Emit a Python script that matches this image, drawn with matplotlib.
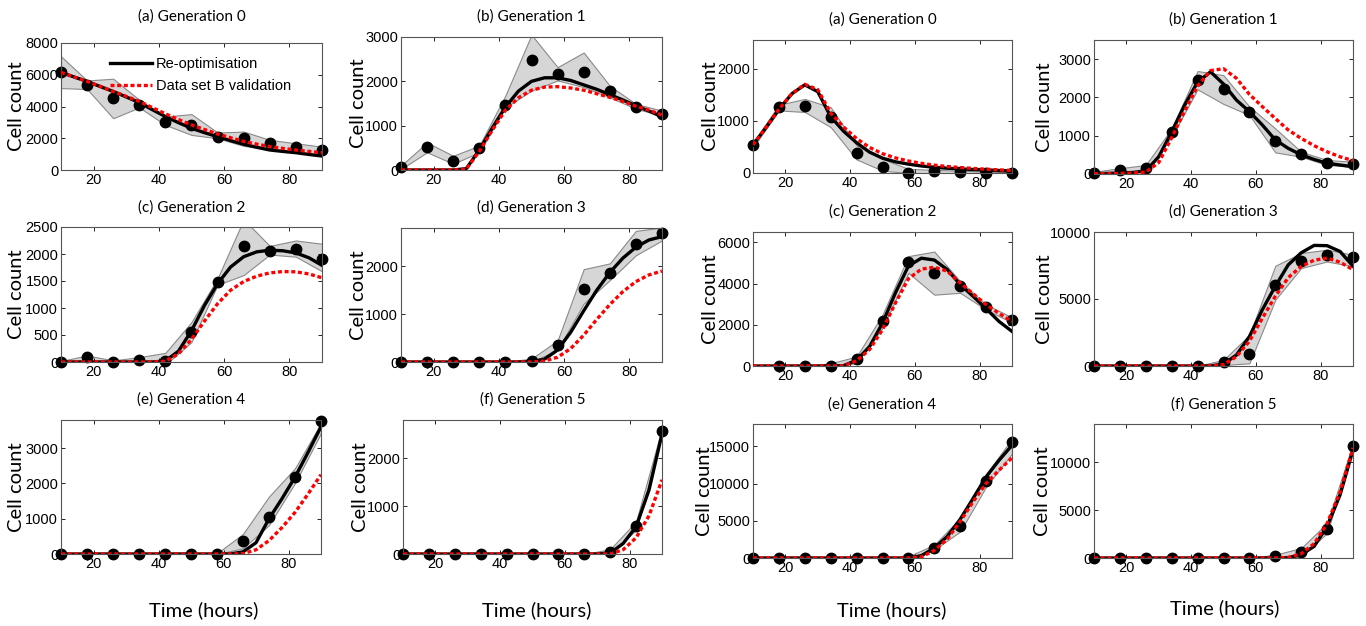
import matplotlib
matplotlib.use('Agg')
import matplotlib.pyplot as plt
import numpy as np

plt.rcParams['font.family'] = ['Liberation Sans Narrow', 'Liberation Sans', 'DejaVu Sans']

# observation times and model curve times (hours)
t_obs = [10, 18, 26, 34, 42, 50, 58, 66, 74, 82, 90]
t_fit = [10, 14, 18, 22, 26, 30, 34, 38, 42, 46, 50, 54, 58, 62, 66, 70, 74, 78, 82, 86, 90]

# ---- left figure ----
la_obs = [6170, 5330, 4530, 4100, 3050, 2840, 2100, 2000, 1680, 1470, 1260]
la_hi = [7160, 5640, 5750, 4420, 3370, 3520, 2360, 2420, 1900, 1680, 1470]
la_lo = [5160, 5100, 3260, 3940, 2840, 2210, 2000, 1520, 1300, 1100, 950]
la_fit = [6150, 5860, 5580, 5260, 4950, 4600, 4250, 3800, 3370, 2980, 2630,
          2350, 2100, 1850, 1620, 1430, 1260, 1170, 1090, 980, 880]
la_val = [6150, 5860, 5580, 5270, 4950, 4640, 4320, 3930, 3540, 3180, 2840,
          2550, 2270, 2030, 1800, 1630, 1470, 1360, 1260, 1170, 1090]

lb_obs = [60, 530, 210, 500, 1470, 2470, 2170, 2200, 1790, 1410, 1260]
lb_hi = [100, 620, 320, 550, 1680, 3050, 2320, 2650, 1900, 1490, 1340]
lb_lo = [20, 400, 140, 400, 1410, 1790, 2020, 1870, 1640, 1380, 1230]
lb_fit = [0, 0, 0, 0, 0, 30, 450, 950, 1420, 1780, 2000,
          2080, 2080, 2020, 1920, 1820, 1700, 1580, 1450, 1330, 1200]
lb_val = [0, 0, 0, 0, 0, 20, 420, 900, 1350, 1630, 1800,
          1870, 1880, 1850, 1800, 1720, 1640, 1550, 1440, 1350, 1240]

lc_obs = [0, 90, 0, 40, 20, 560, 1490, 2150, 2060, 2090, 1900]
lc_hi = [20, 120, 30, 90, 170, 740, 1550, 2640, 2150, 2250, 2190]
lc_lo = [0, 30, 0, 0, -50, 370, 1430, 1610, 1990, 1950, 1680]
lc_fit = [0, 0, 0, 0, 0, 0, 0, 0, 20, 200, 580,
          1050, 1450, 1760, 1950, 2040, 2070, 2060, 2020, 1930, 1790]
lc_val = [0, 0, 0, 0, 0, 0, 0, 0, 15, 150, 420,
          760, 1080, 1330, 1490, 1590, 1650, 1675, 1670, 1630, 1560]

ld_obs = [0, 0, 0, 0, 0, 20, 360, 1530, 1860, 2470, 2700]
ld_hi = [5, 5, 5, 5, 5, 70, 450, 1940, 2060, 2740, 2810]
ld_lo = [0, 0, 0, 0, 0, 0, 260, 1220, 1710, 2230, 2540]
ld_fit = [0, 0, 0, 0, 0, 0, 0, 0, 0, 0, 5,
          60, 250, 620, 1070, 1500, 1870, 2170, 2400, 2550, 2620]
ld_val = [0, 0, 0, 0, 0, 0, 0, 0, 0, 0, 0,
          20, 100, 280, 560, 890, 1200, 1470, 1680, 1820, 1900]

le_obs = [0, 0, 0, 0, 0, 0, 0, 380, 1040, 2180, 3780]
le_hi = [0, 0, 0, 0, 0, 0, 20, 570, 1630, 2430, 3710]
le_lo = [0, 0, 0, 0, 0, 0, 0, 160, 820, 2010, 3430]
le_fit = [0, 0, 0, 0, 0, 0, 0, 0, 0, 0, 0,
          0, 0, 0, 60, 320, 1000, 1570, 2180, 2880, 3610]
le_val = [0, 0, 0, 0, 0, 0, 0, 0, 0, 0, 0,
          0, 0, 0, 10, 120, 380, 750, 1180, 1700, 2250]

lf_obs = [0, 0, 0, 0, 0, 0, 0, 0, 50, 590, 2580]
lf_hi = [0, 0, 0, 0, 0, 0, 0, 0, 100, 680, 2630]
lf_lo = [0, 0, 0, 0, 0, 0, 0, 0, 0, 500, 2490]
lf_fit = [0, 0, 0, 0, 0, 0, 0, 0, 0, 0, 0,
          0, 0, 0, 0, 0, 20, 220, 570, 1340, 2510]
lf_val = [0, 0, 0, 0, 0, 0, 0, 0, 0, 0, 0,
          0, 0, 0, 0, 0, 0, 90, 340, 800, 1550]

# ---- right figure ----
ra_obs = [540, 1260, 1280, 1070, 390, 110, 0, 30, 10, 0, 0]
ra_hi = [580, 1310, 1420, 1260, 530, 270, 80, 60, 45, 25, 15]
ra_lo = [490, 1200, 1170, 880, 260, 45, 0, 0, 0, 0, 0]
ra_fit = [540, 870, 1220, 1520, 1690, 1560, 1080, 800, 580, 400, 285,
          215, 170, 135, 110, 92, 78, 67, 58, 48, 38]
ra_val = [540, 870, 1220, 1520, 1700, 1600, 1150, 880, 660, 490, 370,
          290, 230, 185, 150, 125, 105, 88, 72, 60, 48]

rb_obs = [35, 100, 165, 1100, 2450, 2220, 1630, 870, 510, 300, 250]
rb_hi = [60, 150, 235, 1190, 2690, 2580, 1760, 1190, 580, 365, 320]
rb_lo = [0, 35, 100, 970, 2210, 1830, 1540, 565, 450, 235, 190]
rb_fit = [10, 15, 25, 40, 80, 450, 1100, 1800, 2400, 2670, 2350,
          1930, 1630, 1280, 890, 670, 500, 380, 280, 235, 190]
rb_val = [5, 10, 15, 25, 50, 300, 950, 1650, 2300, 2700, 2750,
          2500, 2080, 1760, 1450, 1150, 930, 740, 580, 450, 350]

rc_obs = [np.nan, 0, 0, 0, 330, 2160, 5040, 4490, 3870, 2860, 2240]
rc_hi = [0, 0, 0, 130, 460, 2490, 5330, 5550, 4110, 2980, 2360]
rc_lo = [0, 0, 0, 0, 130, 1840, 4520, 3460, 3550, 2730, 2110]
rc_fit = [0, 0, 0, 0, 0, 0, 0, 20, 280, 940, 2080,
          3550, 4850, 5230, 5140, 4680, 3950, 3380, 2780, 2160, 1680]
rc_val = [0, 0, 0, 0, 0, 0, 0, 15, 250, 800, 1760,
          3060, 4230, 4700, 4790, 4600, 4030, 3500, 2980, 2550, 2160]

rd_obs = [0, 0, 0, 0, 0, 270, 870, 6060, 7800, 8250, 8130]
rd_hi = [20, 20, 20, 20, 20, 450, 2320, 7480, 8430, 8680, 8300]
rd_lo = [0, 0, 0, 0, 0, 75, 200, 4940, 7310, 7800, 7430]
rd_fit = [0, 0, 0, 0, 0, 0, 0, 0, 0, 0, 150,
          820, 2200, 4200, 5950, 7550, 8450, 9000, 8980, 8550, 7450]
rd_val = [0, 0, 0, 0, 0, 0, 0, 0, 0, 0, 100,
          700, 1850, 3570, 5200, 6600, 7430, 7900, 8050, 7750, 7180]

re_obs = [0, 0, 0, 0, 0, 0, 0, 1340, 4360, 10370, 15580]
re_hi = [0, 0, 0, 0, 0, 0, 220, 1780, 5340, 11260, 16030]
re_lo = [0, 0, 0, 0, 0, 0, 0, 1110, 3560, 9570, 14030]
re_fit = [0, 0, 0, 0, 0, 0, 0, 0, 0, 0, 0,
          0, 0, 310, 1340, 2890, 5210, 8010, 10900, 13130, 15140]
re_val = [0, 0, 0, 0, 0, 0, 0, 0, 0, 0, 0,
          0, 0, 150, 1020, 2540, 4900, 7570, 10020, 11800, 13450]

rf_obs = [0, 0, 0, 0, 0, 0, 0, 170, 620, 3060, 11740]
rf_hi = [0, 0, 0, 0, 0, 0, 0, 350, 1040, 3650, 11980]
rf_lo = [0, 0, 0, 0, 0, 0, 0, 0, 170, 2600, 11460]
rf_fit = [0, 0, 0, 0, 0, 0, 0, 0, 0, 0, 0,
          0, 0, 0, 0, 30, 350, 1220, 3300, 6600, 11290]
rf_val = [0, 0, 0, 0, 0, 0, 0, 0, 0, 0, 0,
          0, 0, 0, 0, 60, 450, 1500, 3600, 6900, 11500]

titles = ['(a) Generation 0', '(b) Generation 1', '(c) Generation 2',
          '(d) Generation 3', '(e) Generation 4', '(f) Generation 5']

# panel data: title, obs, hi, lo, fit, val, ymax, yticks
panels = [
    (titles[0], la_obs, la_hi, la_lo, la_fit, la_val, 8000, [0, 2000, 4000, 6000, 8000]),
    (titles[1], lb_obs, lb_hi, lb_lo, lb_fit, lb_val, 3000, [0, 1000, 2000, 3000]),
    (titles[2], lc_obs, lc_hi, lc_lo, lc_fit, lc_val, 2500, [0, 500, 1000, 1500, 2000, 2500]),
    (titles[3], ld_obs, ld_hi, ld_lo, ld_fit, ld_val, 2800, [0, 1000, 2000]),
    (titles[4], le_obs, le_hi, le_lo, le_fit, le_val, 3800, [0, 1000, 2000, 3000]),
    (titles[5], lf_obs, lf_hi, lf_lo, lf_fit, lf_val, 2800, [0, 1000, 2000]),
    (titles[0], ra_obs, ra_hi, ra_lo, ra_fit, ra_val, 2550, [0, 1000, 2000]),
    (titles[1], rb_obs, rb_hi, rb_lo, rb_fit, rb_val, 3500, [0, 1000, 2000, 3000]),
    (titles[2], rc_obs, rc_hi, rc_lo, rc_fit, rc_val, 6500, [0, 2000, 4000, 6000]),
    (titles[3], rd_obs, rd_hi, rd_lo, rd_fit, rd_val, 10000, [0, 5000, 10000]),
    (titles[4], re_obs, re_hi, re_lo, re_fit, re_val, 18000, [0, 5000, 10000, 15000]),
    (titles[5], rf_obs, rf_hi, rf_lo, rf_fit, rf_val, 14000, [0, 5000, 10000]),
]

# layout in pixels: axes box (left, top, right, bottom), title y, ylabel x
boxes = [
    ((61, 43, 322, 170), 17, 17), ((401, 37, 662, 170), 17, 359),
    ((61, 227, 322, 362), 208, 17), ((401, 228, 662, 362), 208, 359),
    ((61, 420, 321, 554), 400, 17), ((403, 420, 662, 554), 400, 360),
    ((753, 40, 1012, 173), 20, 710), ((1094, 40, 1353, 174), 20, 1045),
    ((753, 232, 1012, 366), 212, 710), ((1094, 232, 1353, 366), 212, 1045),
    ((753, 424, 1012, 558), 405, 704), ((1094, 424, 1353, 558), 405, 1043),
]

W, H = 1366, 626
fig = plt.figure(figsize=(W / 100, H / 100), dpi=100)

for i, (title, obs, hi, lo, fit, val, ymax, yticks) in enumerate(panels):
    (l, t, r, b), ty, lx = boxes[i]
    ax = fig.add_axes([l / W, 1 - b / H, (r - l) / W, (b - t) / H])
    ax.fill_between(t_obs, lo, hi, facecolor='#d6d6d6', edgecolor='#8a8a8a', lw=0.8, zorder=1)
    ax.plot(t_obs, obs, 'o', color='black', ms=7.5, zorder=2, clip_on=False)
    ax.plot(t_fit, fit, '-', color='black', lw=2.4, zorder=3, label='Re-optimisation')
    ax.plot(t_fit, val, color='red', lw=2.4, ls=(0, (1.2, 0.8)), zorder=4,
            label='Data set B validation')
    ax.set_xlim(10, 90)
    ax.set_ylim(0, ymax)
    ax.set_xticks([20, 40, 60, 80])
    ax.set_yticks(yticks)
    ax.tick_params(direction='in', top=True, right=True, length=3, width=0.6,
                   labelsize=10.5, pad=2)
    for s in ax.spines.values():
        s.set_color('#555555')
        s.set_linewidth(0.8)
    fig.text((l + r) / 2 / W, 1 - ty / H, title, ha='center', va='center',
             fontsize=11, family='Lato')
    fig.text(lx / W, 1 - (t + b) / 2 / H, 'Cell count', rotation=90, ha='center',
             va='center', fontsize=14.5, family='Lato')
    if i == 0:
        ax.legend(loc='upper right', bbox_to_anchor=(0.91, 0.95), frameon=False,
                  fontsize=10.5, handlelength=2.9, handletextpad=0.25,
                  labelspacing=0.55, borderpad=0)

for x, y in [(204, 610), (537, 610), (892, 610), (1225, 608)]:
    fig.text(x / W, 1 - y / H, 'Time (hours)', ha='center', va='center',
             fontsize=14.5, family='Lato')

fig.savefig('out.png', dpi=100)
